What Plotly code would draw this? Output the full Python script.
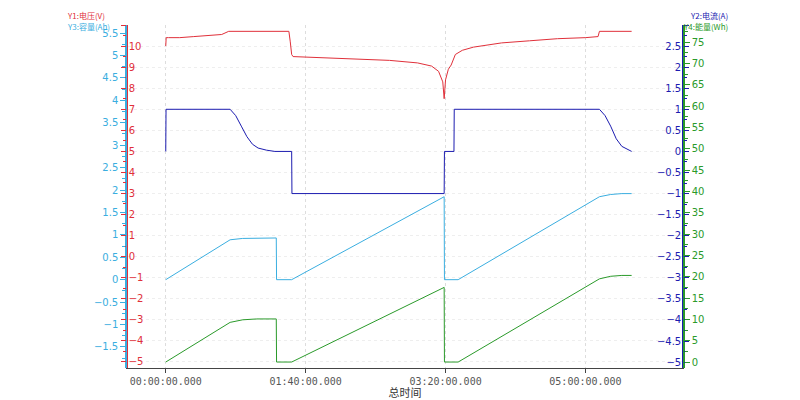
import plotly.graph_objects as go

# time in minutes
v_t = [0, 0.3, 2, 10, 20, 30, 40, 45, 60, 80, 88, 89, 90, 91, 100, 130, 160, 180, 190, 195, 198, 199, 200, 202, 204, 207, 212, 220, 240, 260, 280, 300, 309, 310, 333]
v_y = [10.0, 10.4, 10.4, 10.4, 10.45, 10.5, 10.55, 10.7, 10.7, 10.7, 10.7, 10.2, 9.6, 9.5, 9.48, 9.42, 9.32, 9.2, 9.05, 8.8, 8.3, 7.5, 8.4, 8.9, 9.1, 9.6, 9.8, 9.95, 10.15, 10.25, 10.35, 10.4, 10.45, 10.7, 10.7]

i_t = [0, 0.2, 46, 50, 54, 58, 62, 66, 72, 78, 90, 90.2, 199, 199.2, 206, 206.2, 310, 314, 318, 322, 326, 330, 333]
i_y = [0, 1, 1, 0.85, 0.6, 0.35, 0.17, 0.08, 0.03, 0.0, 0, -1, -1, 0, 0, 1, 1, 0.85, 0.6, 0.3, 0.12, 0.04, 0.0]

c_t = [0, 46, 55, 65, 79, 79.2, 90, 199, 199.2, 209, 310, 318, 326, 333]
c_y = [0, 0.89, 0.92, 0.93, 0.93, 0, 0, 1.85, 0, 0, 1.85, 1.9, 1.92, 1.92]

e_t = [0, 46, 55, 65, 79, 79.2, 90, 199, 199.2, 209, 310, 318, 326, 333]
e_y = [0, 9.3, 9.9, 10.1, 10.1, 0, 0, 17.5, 0, 0, 19.5, 20.1, 20.3, 20.3]

x_ticks = [0, 100, 200, 300]
x_labels = ["00:00:00.000", "01:40:00.000", "03:20:00.000", "05:00:00.000"]

RED, BLUE, LBLUE, GREEN = "#e0303a", "#1c1cb0", "#3aaee0", "#2a9a2a"
FONT = "Noto Sans CJK SC"

fig = go.Figure()
fig.add_trace(go.Scatter(x=v_t, y=v_y, yaxis="y", line=dict(color=RED, width=1), mode="lines"))
fig.add_trace(go.Scatter(x=i_t, y=i_y, yaxis="y2", line=dict(color=BLUE, width=1), mode="lines"))
fig.add_trace(go.Scatter(x=c_t, y=c_y, yaxis="y3", line=dict(color=LBLUE, width=1), mode="lines"))
fig.add_trace(go.Scatter(x=e_t, y=e_y, yaxis="y4", line=dict(color=GREEN, width=1), mode="lines"))

def yax(color, rng, dtick, **kw):
    d = dict(range=rng, dtick=dtick, showline=True, linecolor=color, linewidth=1.5,
             ticks="outside", ticklen=5, tickcolor=color, showgrid=False, zeroline=False,
             automargin=False,
             tickfont=dict(color=color, size=10, family="DejaVu Sans"),
             minor=dict(ticks="outside", ticklen=3, tickcolor=color, dtick=dtick / 2))
    d.update(kw)
    return d

# page body has an 8px margin, so the figure is a bit smaller than the window
fig.update_layout(
    width=792, height=392, showlegend=False,
    plot_bgcolor="white", paper_bgcolor="white",
    margin=dict(l=0, r=0, t=0, b=0),
    xaxis=dict(domain=[0.1515, 0.851], range=[-27, 369], tickvals=x_ticks, ticktext=x_labels,
               automargin=False,
               showline=True, linecolor="#444", ticks="outside", ticklen=4,
               showgrid=True, gridcolor="#ddd", griddash="dot", zeroline=False,
               tickfont=dict(size=10, color="#555", family="DejaVu Sans Mono"),
               title=dict(text="总时间", font=dict(size=11, family=FONT, color="#333"), standoff=0)),
    yaxis=yax(RED, [-5.29, 11], 1, side="left", ticklabelposition="inside", domain=[0.0816, 0.9566],
              showgrid=True, gridcolor="#eee", griddash="dot"),
    yaxis2=yax(BLUE, [-5.14, 3], 0.5, overlaying="y", side="right", anchor="x",
               ticklabelposition="inside"),
    yaxis3=yax(LBLUE, [-1.97, 5.68], 0.5, overlaying="y", side="left", anchor="free", position=0.149),
    yaxis4=yax(GREEN, [-1.4, 79], 5, overlaying="y", side="right", anchor="free", position=0.8535),
)

for x, y, txt, col, xa in [(0.072, 1.0, "Y1:电压(V)", RED, "left"), (0.072, 0.972, "Y3:容量(Ah)", LBLUE, "left"),
                           (0.912, 1.0, "Y2:电流(A)", BLUE, "right"), (0.912, 0.972, "Y4:能量(Wh)", GREEN, "right")]:
    fig.add_annotation(xref="paper", yref="paper", x=x, y=y, text=txt, showarrow=False,
                       xanchor=xa, yanchor="top", font=dict(size=8, color=col, family=FONT))

fig.write_html("out.html")
